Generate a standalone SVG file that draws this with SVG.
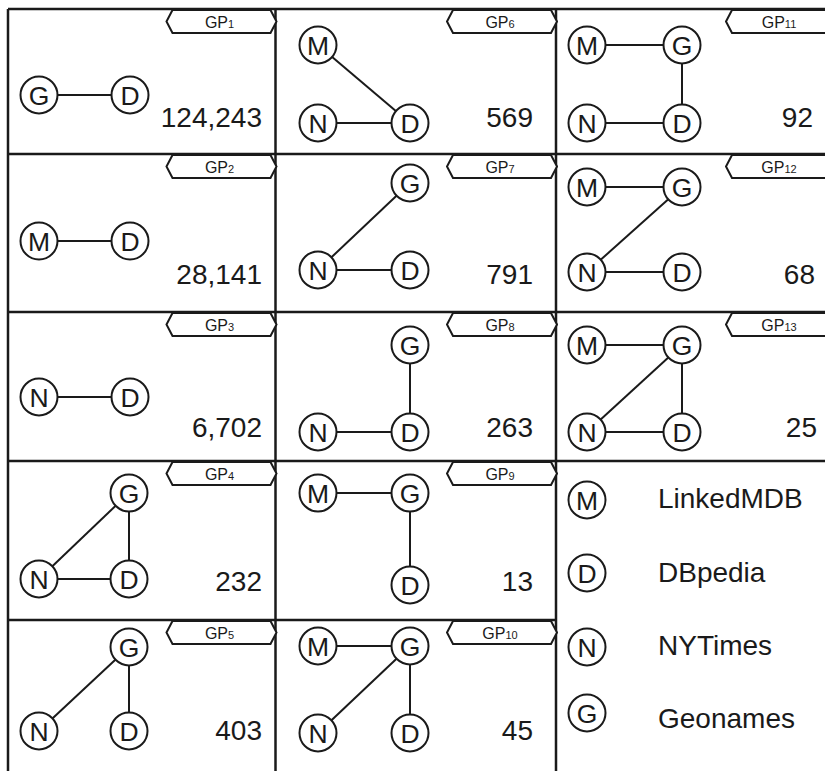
<svg xmlns="http://www.w3.org/2000/svg" width="825" height="771" viewBox="0 0 825 771">
<style>
.bg{fill:#fff}
.grid{stroke:#1a1a1a;stroke-width:2.5;fill:none}
.e{stroke:#1a1a1a;stroke-width:2;fill:none}
.c{fill:#fff;stroke:#1a1a1a;stroke-width:2}
.l{font-family:"Liberation Sans",Arial,sans-serif;font-size:26.5px;fill:#1a1a1a;text-anchor:middle}
.tag{fill:#fff;stroke:#1a1a1a;stroke-width:2;stroke-linejoin:miter}
.tt{font-family:"Liberation Sans",Arial,sans-serif;font-size:16px;fill:#1a1a1a;text-anchor:middle}
.sub{font-size:11px}
.n{font-family:"Liberation Sans",Arial,sans-serif;font-size:28px;fill:#1a1a1a;text-anchor:end}
.lg{font-family:"Liberation Sans",Arial,sans-serif;font-size:28px;fill:#1a1a1a}
</style>
<rect class="bg" x="0" y="0" width="825" height="771"/>
<g id="grid">
<line class="grid" x1="8" y1="9" x2="8" y2="771"/>
<line class="grid" x1="275.5" y1="9" x2="275.5" y2="771"/>
<line class="grid" x1="556" y1="9" x2="556" y2="771"/>
<line class="grid" x1="8" y1="9" x2="825" y2="9"/>
<line class="grid" x1="8" y1="154" x2="825" y2="154"/>
<line class="grid" x1="8" y1="312" x2="825" y2="312"/>
<line class="grid" x1="8" y1="461" x2="825" y2="461"/>
<line class="grid" x1="8" y1="620" x2="556" y2="620"/>
</g>
<g id="tags">
<g id="tag-gp1"><polygon class="tag" points="166.5,21.5 172.5,10 270.5,10 276.5,21.5 270.5,33 172.5,33"/><text class="tt" x="219.5" y="28">GP<tspan class="sub">1</tspan></text></g>
<g id="tag-gp2"><polygon class="tag" points="166.5,166.5 172.5,155 270.5,155 276.5,166.5 270.5,178 172.5,178"/><text class="tt" x="219.5" y="173">GP<tspan class="sub">2</tspan></text></g>
<g id="tag-gp3"><polygon class="tag" points="166.5,324.5 172.5,313 270.5,313 276.5,324.5 270.5,336 172.5,336"/><text class="tt" x="219.5" y="331">GP<tspan class="sub">3</tspan></text></g>
<g id="tag-gp4"><polygon class="tag" points="166.5,473.5 172.5,462 270.5,462 276.5,473.5 270.5,485 172.5,485"/><text class="tt" x="219.5" y="480">GP<tspan class="sub">4</tspan></text></g>
<g id="tag-gp5"><polygon class="tag" points="166.5,632.5 172.5,621 270.5,621 276.5,632.5 270.5,644 172.5,644"/><text class="tt" x="219.5" y="639">GP<tspan class="sub">5</tspan></text></g>
<g id="tag-gp6"><polygon class="tag" points="447,21.5 453,10 551,10 557,21.5 551,33 453,33"/><text class="tt" x="500" y="28">GP<tspan class="sub">6</tspan></text></g>
<g id="tag-gp7"><polygon class="tag" points="447,166.5 453,155 551,155 557,166.5 551,178 453,178"/><text class="tt" x="500" y="173">GP<tspan class="sub">7</tspan></text></g>
<g id="tag-gp8"><polygon class="tag" points="447,324.5 453,313 551,313 557,324.5 551,336 453,336"/><text class="tt" x="500" y="331">GP<tspan class="sub">8</tspan></text></g>
<g id="tag-gp9"><polygon class="tag" points="447,473.5 453,462 551,462 557,473.5 551,485 453,485"/><text class="tt" x="500" y="480">GP<tspan class="sub">9</tspan></text></g>
<g id="tag-gp10"><polygon class="tag" points="447,632.5 453,621 551,621 557,632.5 551,644 453,644"/><text class="tt" x="500" y="639">GP<tspan class="sub">10</tspan></text></g>
<g id="tag-gp11"><polygon class="tag" points="726,21.5 732,10 830,10 836,21.5 830,33 732,33"/><text class="tt" x="779" y="28">GP<tspan class="sub">11</tspan></text></g>
<g id="tag-gp12"><polygon class="tag" points="726,166.5 732,155 830,155 836,166.5 830,178 732,178"/><text class="tt" x="779" y="173">GP<tspan class="sub">12</tspan></text></g>
<g id="tag-gp13"><polygon class="tag" points="726,324.5 732,313 830,313 836,324.5 830,336 732,336"/><text class="tt" x="779" y="331">GP<tspan class="sub">13</tspan></text></g>
</g>
<g id="connectors">
<line class="e" x1="39" y1="95" x2="130" y2="95"/>
<line class="e" x1="318" y1="45" x2="410" y2="123"/>
<line class="e" x1="318" y1="123" x2="410" y2="123"/>
<line class="e" x1="587" y1="45" x2="682" y2="45"/>
<line class="e" x1="682" y1="45" x2="682" y2="123"/>
<line class="e" x1="587" y1="123" x2="682" y2="123"/>
<line class="e" x1="39" y1="241" x2="130" y2="241"/>
<line class="e" x1="318" y1="270" x2="410" y2="183"/>
<line class="e" x1="318" y1="270" x2="410" y2="270"/>
<line class="e" x1="587" y1="187" x2="682" y2="187"/>
<line class="e" x1="587" y1="272" x2="682" y2="187"/>
<line class="e" x1="587" y1="272" x2="682" y2="272"/>
<line class="e" x1="39" y1="397" x2="130" y2="397"/>
<line class="e" x1="410" y1="345" x2="410" y2="432"/>
<line class="e" x1="318" y1="432" x2="410" y2="432"/>
<line class="e" x1="587" y1="345" x2="682" y2="345"/>
<line class="e" x1="587" y1="432" x2="682" y2="345"/>
<line class="e" x1="682" y1="345" x2="682" y2="432"/>
<line class="e" x1="587" y1="432" x2="682" y2="432"/>
<line class="e" x1="39" y1="579" x2="129" y2="493"/>
<line class="e" x1="129" y1="493" x2="129" y2="579"/>
<line class="e" x1="39" y1="579" x2="129" y2="579"/>
<line class="e" x1="318" y1="493" x2="410" y2="493"/>
<line class="e" x1="410" y1="493" x2="410" y2="585"/>
<line class="e" x1="39" y1="731" x2="129" y2="647"/>
<line class="e" x1="129" y1="647" x2="129" y2="731"/>
<line class="e" x1="318" y1="646" x2="410" y2="646"/>
<line class="e" x1="318" y1="733" x2="410" y2="646"/>
<line class="e" x1="410" y1="646" x2="410" y2="733"/>
</g>
<g id="gp1">
<g id="gp1-G"><circle class="c" cx="39" cy="95" r="18.5"/><text class="l" x="39" y="104.5">G</text></g>
<g id="gp1-D"><circle class="c" cx="130" cy="95" r="18.5"/><text class="l" x="130" y="104.5">D</text></g>
<text class="n" x="262" y="127">124,243</text>
</g>
<g id="gp6">
<g id="gp6-M"><circle class="c" cx="318" cy="45" r="18.5"/><text class="l" x="318" y="54.5">M</text></g>
<g id="gp6-N"><circle class="c" cx="318" cy="123" r="18.5"/><text class="l" x="318" y="132.5">N</text></g>
<g id="gp6-D"><circle class="c" cx="410" cy="123" r="18.5"/><text class="l" x="410" y="132.5">D</text></g>
<text class="n" x="533" y="127">569</text>
</g>
<g id="gp11">
<g id="gp11-M"><circle class="c" cx="587" cy="45" r="18.5"/><text class="l" x="587" y="54.5">M</text></g>
<g id="gp11-G"><circle class="c" cx="682" cy="45" r="18.5"/><text class="l" x="682" y="54.5">G</text></g>
<g id="gp11-N"><circle class="c" cx="587" cy="123" r="18.5"/><text class="l" x="587" y="132.5">N</text></g>
<g id="gp11-D"><circle class="c" cx="682" cy="123" r="18.5"/><text class="l" x="682" y="132.5">D</text></g>
<text class="n" x="813" y="127">92</text>
</g>
<g id="gp2">
<g id="gp2-M"><circle class="c" cx="39" cy="241" r="18.5"/><text class="l" x="39" y="250.5">M</text></g>
<g id="gp2-D"><circle class="c" cx="130" cy="241" r="18.5"/><text class="l" x="130" y="250.5">D</text></g>
<text class="n" x="262" y="284">28,141</text>
</g>
<g id="gp7">
<g id="gp7-G"><circle class="c" cx="410" cy="183" r="18.5"/><text class="l" x="410" y="192.5">G</text></g>
<g id="gp7-N"><circle class="c" cx="318" cy="270" r="18.5"/><text class="l" x="318" y="279.5">N</text></g>
<g id="gp7-D"><circle class="c" cx="410" cy="270" r="18.5"/><text class="l" x="410" y="279.5">D</text></g>
<text class="n" x="533" y="284">791</text>
</g>
<g id="gp12">
<g id="gp12-M"><circle class="c" cx="587" cy="187" r="18.5"/><text class="l" x="587" y="196.5">M</text></g>
<g id="gp12-G"><circle class="c" cx="682" cy="187" r="18.5"/><text class="l" x="682" y="196.5">G</text></g>
<g id="gp12-N"><circle class="c" cx="587" cy="272" r="18.5"/><text class="l" x="587" y="281.5">N</text></g>
<g id="gp12-D"><circle class="c" cx="682" cy="272" r="18.5"/><text class="l" x="682" y="281.5">D</text></g>
<text class="n" x="815" y="284">68</text>
</g>
<g id="gp3">
<g id="gp3-N"><circle class="c" cx="39" cy="397" r="18.5"/><text class="l" x="39" y="406.5">N</text></g>
<g id="gp3-D"><circle class="c" cx="130" cy="397" r="18.5"/><text class="l" x="130" y="406.5">D</text></g>
<text class="n" x="262" y="437">6,702</text>
</g>
<g id="gp8">
<g id="gp8-G"><circle class="c" cx="410" cy="345" r="18.5"/><text class="l" x="410" y="354.5">G</text></g>
<g id="gp8-N"><circle class="c" cx="318" cy="432" r="18.5"/><text class="l" x="318" y="441.5">N</text></g>
<g id="gp8-D"><circle class="c" cx="410" cy="432" r="18.5"/><text class="l" x="410" y="441.5">D</text></g>
<text class="n" x="533" y="437">263</text>
</g>
<g id="gp13">
<g id="gp13-M"><circle class="c" cx="587" cy="345" r="18.5"/><text class="l" x="587" y="354.5">M</text></g>
<g id="gp13-G"><circle class="c" cx="682" cy="345" r="18.5"/><text class="l" x="682" y="354.5">G</text></g>
<g id="gp13-N"><circle class="c" cx="587" cy="432" r="18.5"/><text class="l" x="587" y="441.5">N</text></g>
<g id="gp13-D"><circle class="c" cx="682" cy="432" r="18.5"/><text class="l" x="682" y="441.5">D</text></g>
<text class="n" x="817" y="437">25</text>
</g>
<g id="gp4">
<g id="gp4-G"><circle class="c" cx="129" cy="493" r="18.5"/><text class="l" x="129" y="502.5">G</text></g>
<g id="gp4-N"><circle class="c" cx="39" cy="579" r="18.5"/><text class="l" x="39" y="588.5">N</text></g>
<g id="gp4-D"><circle class="c" cx="129" cy="579" r="18.5"/><text class="l" x="129" y="588.5">D</text></g>
<text class="n" x="262" y="591">232</text>
</g>
<g id="gp9">
<g id="gp9-M"><circle class="c" cx="318" cy="493" r="18.5"/><text class="l" x="318" y="502.5">M</text></g>
<g id="gp9-G"><circle class="c" cx="410" cy="493" r="18.5"/><text class="l" x="410" y="502.5">G</text></g>
<g id="gp9-D"><circle class="c" cx="410" cy="585" r="18.5"/><text class="l" x="410" y="594.5">D</text></g>
<text class="n" x="533" y="591">13</text>
</g>
<g id="gp5">
<g id="gp5-G"><circle class="c" cx="129" cy="647" r="18.5"/><text class="l" x="129" y="656.5">G</text></g>
<g id="gp5-N"><circle class="c" cx="39" cy="731" r="18.5"/><text class="l" x="39" y="740.5">N</text></g>
<g id="gp5-D"><circle class="c" cx="129" cy="731" r="18.5"/><text class="l" x="129" y="740.5">D</text></g>
<text class="n" x="262" y="740">403</text>
</g>
<g id="gp10">
<g id="gp10-M"><circle class="c" cx="318" cy="646" r="18.5"/><text class="l" x="318" y="655.5">M</text></g>
<g id="gp10-G"><circle class="c" cx="410" cy="646" r="18.5"/><text class="l" x="410" y="655.5">G</text></g>
<g id="gp10-N"><circle class="c" cx="318" cy="733" r="18.5"/><text class="l" x="318" y="742.5">N</text></g>
<g id="gp10-D"><circle class="c" cx="410" cy="733" r="18.5"/><text class="l" x="410" y="742.5">D</text></g>
<text class="n" x="533" y="740">45</text>
</g>
<g id="legend">
<g id="legend-M"><circle class="c" cx="587" cy="500" r="18.5"/><text class="l" x="587" y="509.5">M</text><text class="lg" x="658" y="508">LinkedMDB</text></g>
<g id="legend-D"><circle class="c" cx="587" cy="573" r="18.5"/><text class="l" x="587" y="582.5">D</text><text class="lg" x="658" y="582">DBpedia</text></g>
<g id="legend-N"><circle class="c" cx="587" cy="647" r="18.5"/><text class="l" x="587" y="656.5">N</text><text class="lg" x="658" y="655">NYTimes</text></g>
<g id="legend-G"><circle class="c" cx="587" cy="713" r="18.5"/><text class="l" x="587" y="722.5">G</text><text class="lg" x="658" y="728">Geonames</text></g>
</g>
</svg>
